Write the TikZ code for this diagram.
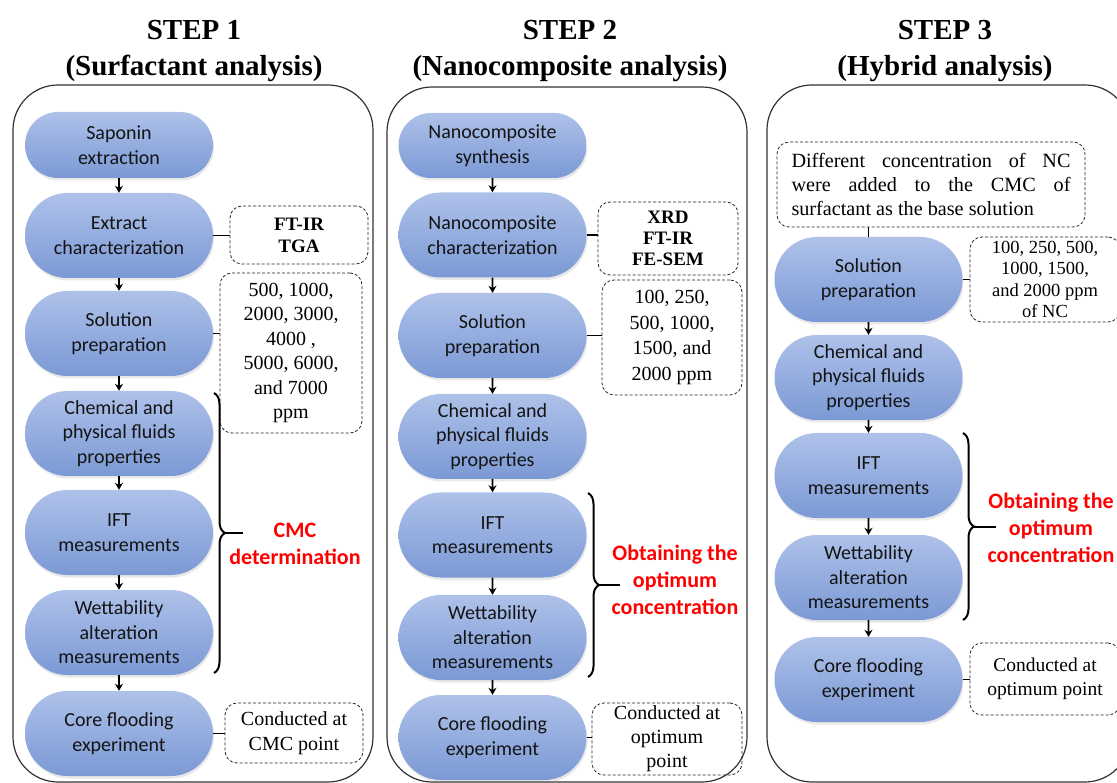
\documentclass[tikz,border=0pt]{standalone}
\usepackage{fontspec}
\setmainfont{Liberation Serif}
\newfontfamily\calfont{Carlito}
\usetikzlibrary{shapes.misc,arrows.meta,decorations.pathreplacing,shadows}
\definecolor{pilltop}{HTML}{AEC1E9}
\definecolor{pillbot}{HTML}{7B99D5}
\definecolor{framecol}{HTML}{333333}
\definecolor{redtxt}{HTML}{FF0000}
\tikzset{
  pill/.style={rounded rectangle, minimum width=188pt, minimum height=85pt, inner sep=0pt,
    top color=pilltop, bottom color=pillbot, draw=none,
    drop shadow={opacity=0.18, shadow xshift=1pt, shadow yshift=-2.5pt},
    font=\calfont\fontsize{20}{24.5}\selectfont, align=center, text={black!92}},
  dbox/.style={draw=black!85, dash pattern=on 3pt off 2pt, line width=0.8pt, rounded corners=12pt,
    inner sep=0pt, align=center, font=\fontsize{20}{24.5}\selectfont},
  frame/.style={draw=framecol, line width=1.2pt, rounded corners=45pt},
  arr/.style={-{Stealth[length=7pt,width=8pt]}, line width=1.8pt, black},
  conn/.style={line width=1.5pt, black},
  brc/.style={decorate, decoration={brace, amplitude=11pt}, line width=2pt, black},
  nib/.style={line width=2pt, black},
  redlab/.style={text=redtxt, font=\calfont\bfseries\fontsize{22}{27}\selectfont, align=center},
  title/.style={font=\bfseries\fontsize{29}{36}\selectfont, align=center}
}
\begin{document}
\begin{tikzpicture}[x=1pt,y=-1pt]
\useasboundingbox (0,0) rectangle (1117,783);
\clip (0,0) rectangle (1117,783);
\fill[white] (0,0) rectangle (1117,783);

% titles
\node[title] (t1) at (194,51) {STEP 1\\(Surfactant analysis)};
\node[title] (t2) at (570,51) {STEP 2\\(Nanocomposite analysis)};
\node[title] (t3) at (945,51) {STEP 3\\(Hybrid analysis)};

% frames
\draw[frame] (13,85) rectangle (373,782);
\draw[frame] (387,87) rectangle (747,782);
\draw[frame] (767,85) rectangle (1130,782);

% ---------- column 1 ----------
\node[pill, minimum height=66pt] (s1a) at (119,145) {Saponin\\extraction};
\node[pill] (s1b) at (119,235.5) {Extract\\characterization};
\node[pill] (s1c) at (119,333.5) {Solution\\preparation};
\node[pill] (s1d) at (119,433.5) {Chemical and\\physical fluids\\properties};
\node[pill] (s1e) at (119,532.5) {IFT\\measurements};
\node[pill] (s1f) at (119,632.5) {Wettability\\alteration\\measurements};
\node[pill] (s1g) at (119,733.5) {Core flooding\\experiment};
\draw[arr] (s1a) -- (s1b);
\draw[arr] (s1b) -- (s1c);
\draw[arr] (s1c) -- (s1d);
\draw[arr] (s1d) -- (s1e);
\draw[arr] (s1e) -- (s1f);
\draw[arr] (s1f) -- (s1g);

\node[dbox, minimum width=138pt, minimum height=58pt, font=\bfseries\fontsize{19}{22}\selectfont] (d1b) at (299,235) {FT-IR\\TGA};
\node[dbox, minimum width=142pt, minimum height=160pt] (d1c) at (291,353) {500, 1000,\\2000, 3000,\\4000 ,\\5000, 6000,\\and 7000\\ppm};
\node[dbox, minimum width=138pt, minimum height=60pt] (d1g) at (294,733) {Conducted at\\CMC point};
\draw[conn] (s1b.east) -- (s1b.east -| d1b.west);
\draw[conn] (s1c.east) -- (s1c.east -| d1c.west);
\draw[conn] (s1g.east) -- (s1g.east -| d1g.west);

\coordinate (b1t) at (214,393);
\coordinate (b1b) at (214,673);
\coordinate (b1m) at (225,533);
\coordinate (b1n) at (243,533);
\draw[brc] (b1t) -- (b1b);
\draw[nib] (b1m) -- (b1n);
\node[redlab] (r1) at (295,543.5) {CMC\\determination};

% ---------- column 2 ----------
\node[pill, minimum height=65pt] (s2a) at (492.5,145.5) {Nanocomposite\\synthesis};
\node[pill] (s2b) at (492.5,235) {Nanocomposite\\characterization};
\node[pill] (s2c) at (492.5,335.5) {Solution\\preparation};
\node[pill] (s2d) at (492.5,436.5) {Chemical and\\physical fluids\\properties};
\node[pill] (s2e) at (492.5,535) {IFT\\measurements};
\node[pill] (s2f) at (492.5,637.5) {Wettability\\alteration\\measurements};
\node[pill] (s2g) at (492.5,737.5) {Core flooding\\experiment};
\draw[arr] (s2a) -- (s2b);
\draw[arr] (s2b) -- (s2c);
\draw[arr] (s2c) -- (s2d);
\draw[arr] (s2d) -- (s2e);
\draw[arr] (s2e) -- (s2f);
\draw[arr] (s2f) -- (s2g);

\node[dbox, minimum width=140pt, minimum height=73pt, font=\bfseries\fontsize{19}{21}\selectfont] (d2b) at (668,238.5) {XRD\\FT-IR\\FE-SEM};
\node[dbox, minimum width=140pt, minimum height=115pt, font=\fontsize{20}{25.5}\selectfont] (d2c) at (672,337.5) {100, 250,\\500, 1000,\\1500, and\\2000 ppm};
\node[dbox, minimum width=150pt, minimum height=72pt, font=\fontsize{20}{24}\selectfont] (d2g) at (667,739) {Conducted at\\optimum\\point};
\draw[conn] (s2b.east) -- (s2b.east -| d2b.west);
\draw[conn] (s2c.east) -- (s2c.east -| d2c.west);
\draw[conn] (s2g.east) -- (s2g.east -| d2g.west);

\coordinate (b2t) at (588,493);
\coordinate (b2b) at (588,677);
\coordinate (b2m) at (599,585);
\coordinate (b2n) at (620,585);
\draw[brc] (b2t) -- (b2b);
\draw[nib] (b2m) -- (b2n);
\node[redlab] (r2) at (675,580) {Obtaining the\\optimum\\concentration};

% ---------- column 3 ----------
\node[dbox, minimum width=308pt, minimum height=85pt, font=\fontsize{20.2}{24}\selectfont, align=left] (d3t) at (931,184.5)
  {\makebox[279pt][s]{Different concentration of NC}\\\makebox[279pt][s]{were added to the CMC of}\\surfactant as the base solution};
\node[pill] (s3c) at (868.5,279.5) {Solution\\preparation};
\node[pill] (s3d) at (868.5,377.5) {Chemical and\\physical fluids\\properties};
\node[pill] (s3e) at (868.5,475.5) {IFT\\measurements};
\node[pill] (s3f) at (868.5,577.5) {Wettability\\alteration\\measurements};
\node[pill] (s3g) at (868.5,679.5) {Core flooding\\experiment};
\draw[conn] (s3c.north |- d3t.south) -- (s3c.north);
\draw[arr] (s3c) -- (s3d);
\draw[arr] (s3d) -- (s3e);
\draw[arr] (s3e) -- (s3f);
\draw[arr] (s3f) -- (s3g);

\node[dbox, minimum width=150pt, minimum height=85pt, font=\fontsize{18.5}{21.5}\selectfont] (d3c) at (1045,279.5) {100, 250, 500,\\1000, 1500,\\and 2000 ppm\\of NC};
\node[dbox, minimum width=150pt, minimum height=72pt, font=\fontsize{19.5}{24}\selectfont] (d3g) at (1045,679) {Conducted at\\optimum point};
\draw[conn] (s3c.east) -- (s3c.east -| d3c.west);
\draw[conn] (s3g.east) -- (s3g.east -| d3g.west);

\coordinate (b3t) at (963,433);
\coordinate (b3b) at (963,620);
\coordinate (b3m) at (974,526.5);
\coordinate (b3n) at (996,526.5);
\draw[brc] (b3t) -- (b3b);
\draw[nib] (b3m) -- (b3n);
\node[redlab] (r3) at (1051,528) {Obtaining the\\optimum\\concentration};
\end{tikzpicture}
\end{document}
